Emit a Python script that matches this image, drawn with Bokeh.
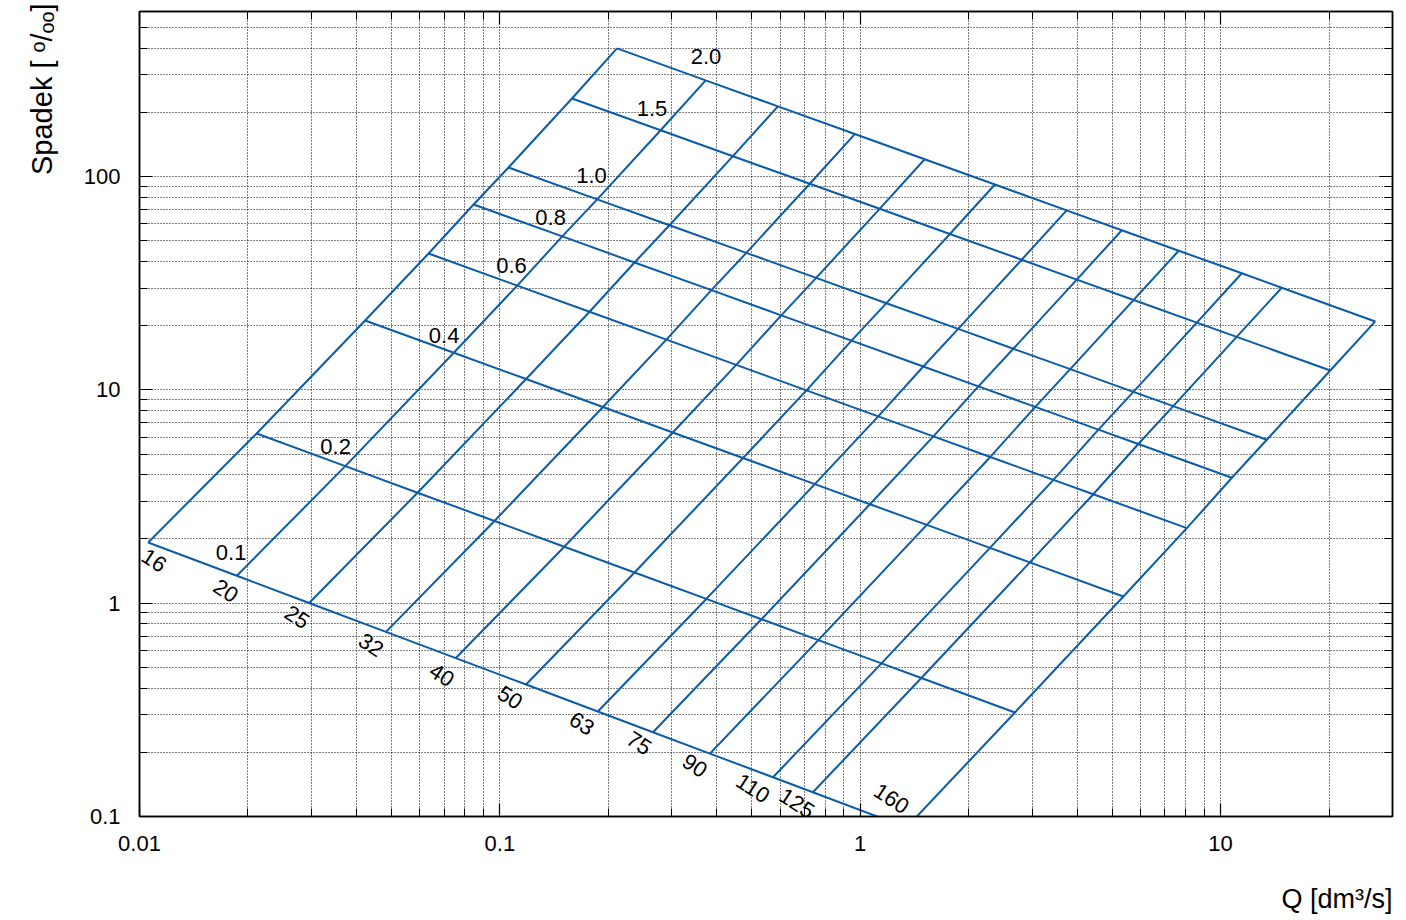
import math

from bokeh.embed import file_html
from bokeh.models import CustomJSTickFormatter, FixedTicker, Label, LogAxis, Range1d, Title
from bokeh.plotting import figure
from bokeh.resources import INLINE

# PE pipe sizes: nominal outer diameter and bore (mm)
diameters = [16, 20, 25, 32, 40, 50, 63, 75, 90, 110, 125, 160]
inner_mm = [11.6, 15.4, 19.4, 24.8, 31.0, 38.8, 48.8, 58.2, 69.8, 85.4, 97.0, 130.8]

# flow velocities (m/s)
velocities = [0.1, 0.2, 0.4, 0.6, 0.8, 1.0, 1.5, 2.0]
velocity_labels = ["0.1", "0.2", "0.4", "0.6", "0.8", "1.0", "1.5", "2.0"]

# hydraulic gradient (per mille), one list per velocity, ordered like `diameters`
slope_v01 = [1.926, 1.344, 1.002, 0.734, 0.553, 0.4155, 0.3106, 0.2483, 0.1972, 0.1527, 0.1299, 0.0888]
slope_v02 = [6.245, 4.391, 3.295, 2.429, 1.840, 1.392, 1.047, 0.841, 0.671, 0.522, 0.4457, 0.3074]
slope_v04 = [21.15, 14.93, 11.24, 8.31, 6.316, 4.792, 3.615, 2.910, 2.328, 1.816, 1.553, 1.075]
slope_v06 = [43.6, 30.82, 23.23, 17.20, 13.09, 9.945, 7.513, 6.053, 4.848, 3.787, 3.242, 2.247]
slope_v08 = [74.0, 52.4, 39.56, 29.34, 22.36, 17.01, 12.87, 10.38, 8.322, 6.507, 5.573, 3.872]
slope_v10 = [110.3, 78.2, 59.1, 43.9, 33.48, 25.49, 19.31, 15.58, 12.51, 9.79, 8.389, 5.836]
slope_v15 = [232.3, 164.8, 124.6, 92.5, 70.6, 53.8, 40.74, 32.89, 26.40, 20.67, 17.72, 12.33]
slope_v20 = [398.7, 282.4, 213.3, 158.2, 120.6, 91.8, 69.4, 56.0, 44.9, 35.2, 30.1, 20.93]
slopes = [slope_v01, slope_v02, slope_v04, slope_v06, slope_v08, slope_v10, slope_v15, slope_v20]

x_ticks = [0.01, 0.1, 1, 10]
y_ticks = [0.1, 1, 10, 100]

x_title = "Q [dm³/s]"
y_title = "Spadek [ ᵒ/ₒₒ]"

FONT = "Liberation Sans"
BLUE = "#0b5ba8"


def flow(v, bore_mm):
    """Volume flow in dm3/s for velocity v (m/s) in a bore of bore_mm."""
    area_dm2 = math.pi / 4.0 * (bore_mm / 100.0) ** 2
    return v * 10.0 * area_dm2


# minor tick positions for the log axes
x_minor = [m * 10.0 ** e for e in (-2, -1, 0, 1) for m in range(2, 10) if m * 10.0 ** e < 30]
y_minor = [m * 10.0 ** e for e in (-1, 0, 1, 2) for m in range(2, 10) if m * 10.0 ** e < 594]

p = figure(
    x_axis_type="log", y_axis_type="log",
    x_range=Range1d(0.01, 30), y_range=Range1d(0.1, 594),
    frame_width=1253, frame_height=805,
    min_border_left=139, min_border_right=14, min_border_top=11, min_border_bottom=104,
    output_backend="svg", toolbar_location=None,
    background_fill_color="white", border_fill_color="white",
)
p.outline_line_color = "black"
p.outline_line_width = 1.5


def style_axis(ax, ticks, minor, labelled):
    ax.ticker = FixedTicker(ticks=ticks, minor_ticks=minor)
    ax.axis_line_color = "black"
    ax.axis_line_width = 1.5
    ax.major_tick_in = 13
    ax.major_tick_out = 0
    ax.minor_tick_in = 8
    ax.minor_tick_out = 0
    ax.major_tick_line_color = "black"
    ax.minor_tick_line_color = "black"
    ax.major_tick_line_width = 1.2
    ax.minor_tick_line_width = 1.0
    if labelled:
        ax.formatter = CustomJSTickFormatter(code="return tick.toString()")
        ax.major_label_text_font = FONT
        ax.major_label_text_font_size = "22px"
        ax.major_label_text_color = "black"
        ax.major_label_standoff = 19
    else:
        ax.formatter = CustomJSTickFormatter(code="return ''")
        ax.major_label_standoff = 0


x_axis = p.below[0]
y_axis = p.left[0]
style_axis(x_axis, x_ticks, x_minor, True)
style_axis(y_axis, y_ticks, y_minor, True)

top_axis = LogAxis()
style_axis(top_axis, x_ticks, x_minor, False)
p.add_layout(top_axis, "above")
right_axis = LogAxis()
style_axis(right_axis, y_ticks, y_minor, False)
p.add_layout(right_axis, "right")

for g in (p.xgrid[0], p.ygrid[0]):
    g.grid_line_color = "black"
    g.grid_line_alpha = 1.0
    g.grid_line_dash = "1 2"
    g.grid_line_width = 1
    g.minor_grid_line_color = "black"
    g.minor_grid_line_alpha = 1.0
    g.minor_grid_line_dash = "1 2"
    g.minor_grid_line_width = 1

# constant-diameter lines (across velocities)
d_xs = [[flow(v, bore) for v in velocities] for bore in inner_mm]
d_ys = [[row[j] for row in slopes] for j in range(len(diameters))]
p.multi_line(d_xs, d_ys, line_color=BLUE, line_width=2)

# constant-velocity lines (across diameters)
v_xs = [[flow(v, bore) for bore in inner_mm] for v in velocities]
v_ys = [list(row) for row in slopes]
p.multi_line(v_xs, v_ys, line_color=BLUE, line_width=2)

# velocity captions, placed just right of the smallest pipe line
vel_offsets = [(83, 10), (79, 13), (79, 15), (83, 12), (77, 13), (83, 8), (80, 10), (89, 8)]
for i, txt in enumerate(velocity_labels):
    dx, dy = vel_offsets[i]
    p.add_layout(Label(
        x=flow(velocities[i], inner_mm[0]), y=slopes[i][0], text=txt,
        x_offset=dx, y_offset=-dy, text_align="center", text_baseline="middle",
        text_font=FONT, text_font_size="22px", text_color="black",
    ))

# diameter captions under the lowest velocity line
dia_offsets = [(6, 18), (-11, 15), (-12, 14), (-15, 13), (-14, 17), (-16, 13),
               (-16, 12), (-14, 11), (-15, 12), (-20, 11), (-16, 11), (-15, -29)]
for j, d in enumerate(diameters):
    dx, dy = dia_offsets[j]
    p.add_layout(Label(
        x=flow(velocities[0], inner_mm[j]), y=slopes[0][j], text=str(d),
        x_offset=dx, y_offset=-dy, angle=-33 * math.pi / 180,
        text_align="center", text_baseline="middle",
        text_font=FONT, text_font_size="22px", text_color="black",
    ))

# axis titles, pushed to the outer corners
p.add_layout(Title(
    text=x_title, align="right", standoff=56,
    text_font=FONT, text_font_size="27px", text_font_style="normal", text_color="black",
), "below")
p.add_layout(Title(
    text=y_title, align="right", vertical_align="top", standoff=42, offset=-8,
    text_font=FONT, text_font_size="29px", text_font_style="normal", text_color="black",
), "left")

open("out.html", "w").write(file_html(p, INLINE))
